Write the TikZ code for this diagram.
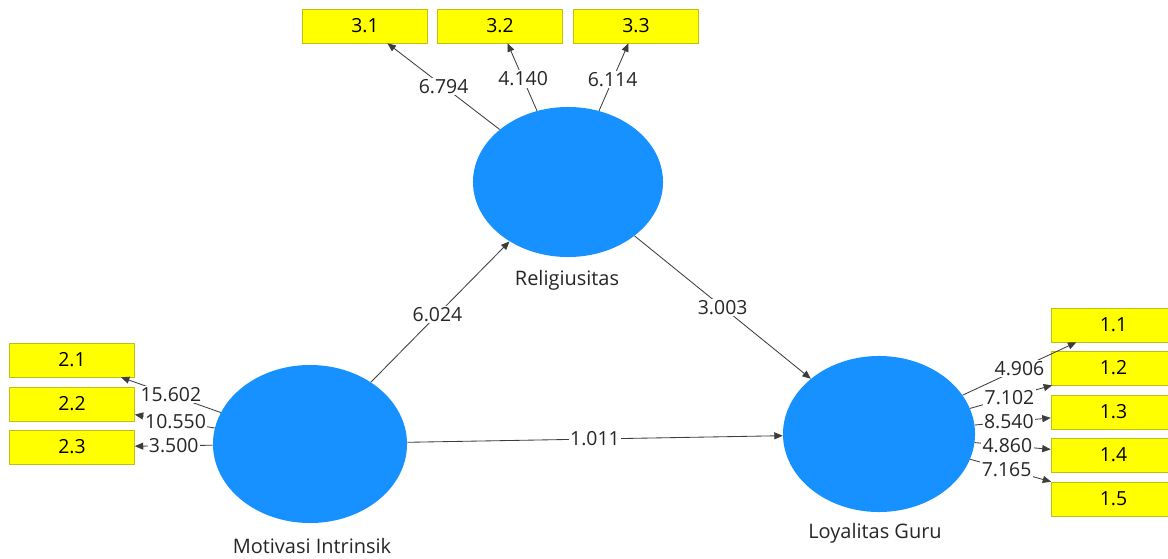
\documentclass[tikz,border=0pt]{standalone}
\usepackage{fontspec}
\setmainfont{Open Sans}
\usetikzlibrary{arrows.meta}
\usetikzlibrary{shapes.geometric}

\definecolor{lvblue}{RGB}{22,145,255}
\definecolor{indyellow}{RGB}{255,255,0}
\definecolor{indedge}{RGB}{190,190,20}
\definecolor{pathgray}{RGB}{60,60,60}

\tikzset{
  latent/.style={ellipse, fill=lvblue, inner sep=0pt},
  indicator/.style={rectangle, draw=indedge, fill=indyellow, minimum width=3.125cm,
    minimum height=0.85cm, inner sep=0pt, font=\fontsize{13.8}{16}\selectfont},
  val/.style={fill=white, inner sep=1pt, text=black!85, font=\fontsize{13.8}{16}\selectfont},
  lvname/.style={text=black!85, font=\fontsize{14.2}{16}\selectfont},
  pathline/.style={->, draw=pathgray, line width=0.6pt}
}

\begin{document}
\begin{tikzpicture}[>={Triangle[length=6pt,width=5pt]}, x=0.025cm, y=-0.025cm]
    \useasboundingbox (0,0) rectangle (1168,558);

    % latent variables
    \node[latent, minimum width=4.75cm, minimum height=3.75cm] (R) at (568,182) {};
    \node[latent, minimum width=4.85cm, minimum height=3.95cm] (M) at (310,444) {};
    \node[latent, minimum width=4.8cm, minimum height=3.9cm] (L) at (879,434) {};

    \node[lvname] (Rname) at (567,280) {Religiusitas};
    \node[lvname] (Mname) at (312,546) {Motivasi Intrinsik};
    \node[lvname] (Lname) at (875,533) {Loyalitas Guru};

    % indicators
    \foreach \n/\t/\x in {31/3.1/365, 32/3.2/500, 33/3.3/636}
        \node[indicator] (i\n) at (\x,26) {\t};
    \foreach \n/\t/\y in {21/2.1/360, 22/2.2/404, 23/2.3/447}
        \node[indicator] (i\n) at (72,\y) {\t};
    \foreach \n/\t/\y in {11/1.1/325, 12/1.2/368, 13/1.3/412, 14/1.4/455, 15/1.5/499}
        \node[indicator] (i\n) at (1113.5,\y) {\t};

    % outer loadings
    \draw[pathline] (R) -- node[val, pos=.5]{6.794} (i31);
    \draw[pathline] (R) -- node[val, pos=.47]{4.140} (i32);
    \draw[pathline] (R) -- node[val, pos=.46]{6.114} (i33);

    \draw[pathline] (M) -- node[val, pos=.5]{15.602} (i21);
    \draw[pathline] (M) -- node[val, pos=.49]{10.550} (i22);
    \draw[pathline] (M) -- node[val, pos=.5]{3.500} (i23);

    \draw[pathline] (L) -- node[val, pos=.5]{4.906} (i11);
    \draw[pathline] (L) -- node[val, pos=.48]{7.102} (i12);
    \draw[pathline] (L) -- node[val, pos=.45]{8.540} (i13);
    \draw[pathline] (L) -- node[val, pos=.43]{4.860} (i14);
    \draw[pathline] (L) -- node[val, pos=.45]{7.165} (i15);

    % inner model
    \draw[pathline] (M) -- node[val, pos=.48]{6.024} (R);
    \draw[pathline] (R) -- node[val, pos=.5]{3.003} (L);
    \draw[pathline] (M) -- node[val, pos=.5]{1.011} (L);

\end{tikzpicture}
\end{document}
